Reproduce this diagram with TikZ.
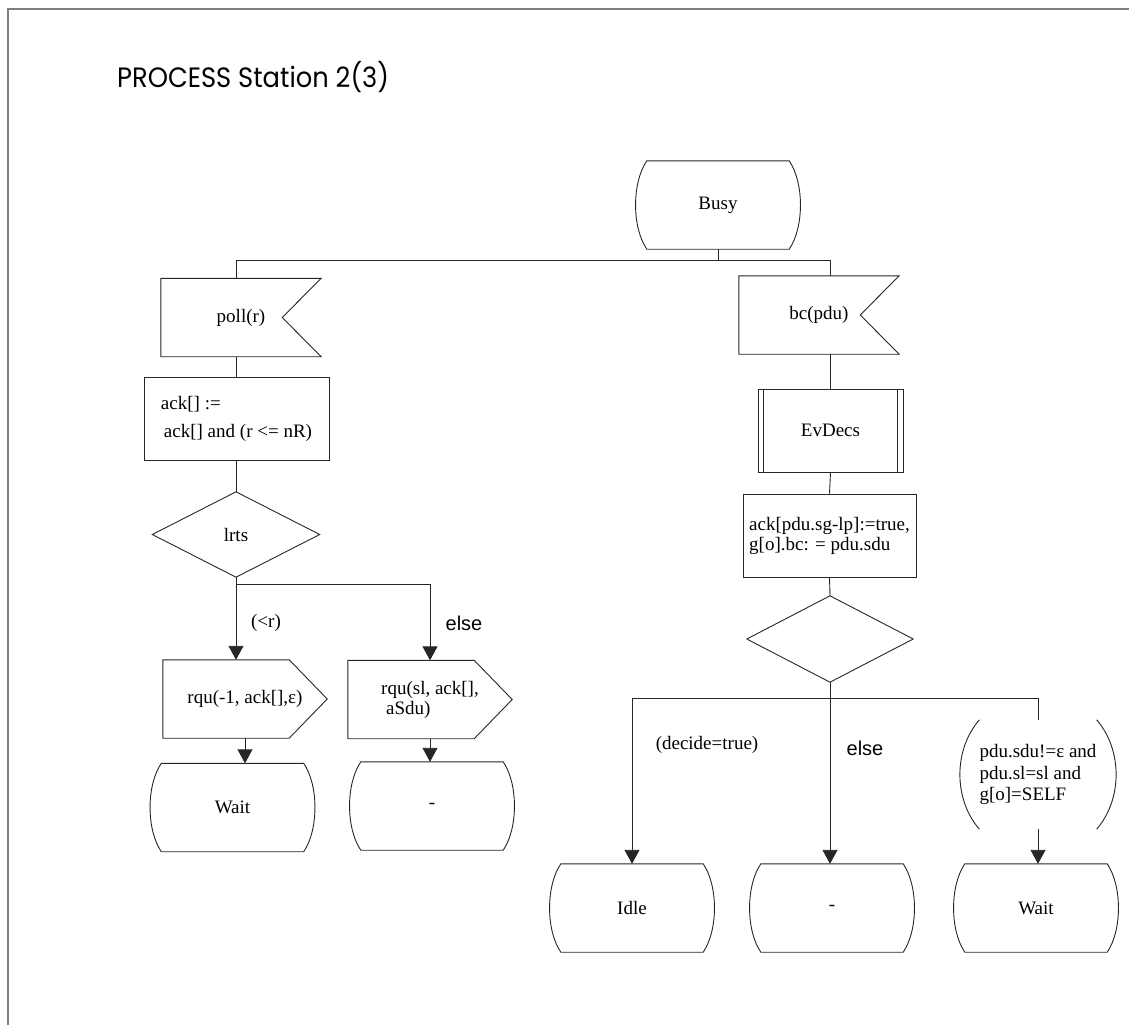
\documentclass[tikz,border=0pt]{standalone}
\usepackage{fontspec}
\setmainfont{Liberation Serif}
\newfontfamily\titlefont{Poppins}
\newfontfamily\labelsans{Liberation Sans}
\usetikzlibrary{arrows.meta,calc}

\tikzset{
  shapeline/.style={draw=black!85, line width=0.9pt},
  flow/.style={draw=black!85, line width=0.9pt},
  flowarrow/.style={flow, -{Triangle[length=14pt,width=15pt]}},
  framerule/.style={draw=black!50, line width=2pt},
  box/.style={inner sep=0pt, font=\fontsize{19}{20}\selectfont},
  statebox/.style={box, minimum width=142pt, minimum height=88pt},
  inbox/.style={box, minimum width=160pt, minimum height=78pt},
  outbox/.style={box, minimum width=164pt, minimum height=78pt},
  taskbox/.style={box, shapeline, align=left, minimum height=83pt},
  procbox/.style={box, shapeline, minimum width=145pt, minimum height=83pt},
  decbox/.style={box, minimum width=167pt, minimum height=85pt},
  condbox/.style={box, align=left, font=\fontsize{19}{21.5}\selectfont,
    minimum width=110pt, minimum height=109pt},
  serifnote/.style={font=\fontsize{19}{20}\selectfont},
  sansnote/.style={font=\labelsans\fontsize{20}{22}\selectfont},
  titletext/.style={font=\titlefont\fontsize{28}{30}\selectfont},
}

% outlines drawn around invisible rectangular nodes
\newcommand\stateoutline[1]{%
  \draw[shapeline] (#1.north west) -- (#1.north east)
    .. controls ($(#1.north east)+(15,22)$) and ($(#1.south east)+(15,-22)$) .. (#1.south east)
    -- (#1.south west)
    .. controls ($(#1.south west)+(-15,-22)$) and ($(#1.north west)+(-15,22)$) .. cycle;}
\newcommand\inputoutline[1]{%
  \draw[shapeline] (#1.north west) -- (#1.north east) -- ($(#1.east)+(-39,0)$)
    -- (#1.south east) -- (#1.south west) -- cycle;}
\newcommand\outputoutline[1]{%
  \draw[shapeline] (#1.north west) -- ($(#1.north east)+(-38,0)$) -- (#1.east)
    -- ($(#1.south east)+(-38,0)$) -- (#1.south west) -- cycle;}
\newcommand\decisionoutline[1]{%
  \draw[shapeline] (#1.north) -- (#1.east) -- (#1.south) -- (#1.west) -- cycle;}
\newcommand\procinner[1]{%
  \draw[shapeline] ($(#1.north west)+(6,0)$) -- ($(#1.south west)+(6,0)$);
  \draw[shapeline] ($(#1.north east)+(-6,0)$) -- ($(#1.south east)+(-6,0)$);}
\newcommand\condparens[1]{%
  \draw[shapeline] (#1.north west)
    .. controls ($(#1.north west)+(-26,30)$) and ($(#1.south west)+(-26,-30)$) .. (#1.south west);
  \draw[shapeline] (#1.north east)
    .. controls ($(#1.north east)+(26,30)$) and ($(#1.south east)+(26,-30)$) .. (#1.south east);}

\begin{document}
\begin{tikzpicture}[x=1pt, y=-1pt]
\useasboundingbox (0,0) rectangle (1129,1025);

% frame and heading
\draw[framerule] (8,1025) -- (8,9) -- (1129,9);
\node[titletext, anchor=base west, inner sep=0pt] (title) at (117,87)
  {\scalebox{0.92}[1]{PROCESS Station 2(3)}};

% start state
\node[statebox] (busy) at (718,205) {Busy};
\stateoutline{busy}

% left transition
\node[inbox] (pollin) at (241,317.5) {poll(r)\hspace{18pt}};
\inputoutline{pollin}
\node[taskbox, minimum width=185pt, font=\fontsize{19}{28}\selectfont] (ack) at (236.5,418.5)
  {ack[] :=\\\hspace*{3pt}ack[] and (r <= nR)};
\node[decbox] (lrts) at (236,534.5) {lrts};
\decisionoutline{lrts}
\node[outbox] (out1) at (245,699) {rqu(-1, ack[],ε)};
\outputoutline{out1}
\node[outbox, align=left] (out2) at (430,699.5) {rqu(sl, ack[],\\\hspace*{5pt}aSdu)};
\outputoutline{out2}
\node[statebox] (wait1) at (232.5,807.5) {Wait};
\stateoutline{wait1}
\node[statebox] (dash1) at (432,806) {-};
\stateoutline{dash1}

% right transition
\node[inbox] (bcin) at (819,315) {bc(pdu)};
\inputoutline{bcin}
\node[procbox] (evdecs) at (830.5,430.5) {EvDecs};
\procinner{evdecs}
\node[taskbox, minimum width=173pt] (task2) at (829.5,535.5)
  {ack[pdu.sg-lp]:=true,\\g[o].bc: = pdu.sdu};
\node[decbox, minimum width=166pt, minimum height=86pt] (dec2) at (830,639) {};
\decisionoutline{dec2}
\node[condbox] (cond) at (1038,774.5) {pdu.sdu!=ε and\\pdu.sl=sl and\\g[o]=SELF};
\condparens{cond}
\node[statebox] (idle) at (632,908) {Idle};
\stateoutline{idle}
\node[statebox] (dash2) at (832,908) {-};
\stateoutline{dash2}
\node[statebox] (wait2) at (1036,908) {Wait};
\stateoutline{wait2}

% connectors from the start state
\draw[flow] (busy.south) -- ++(0,11) coordinate (bj);
\draw[flow] (bj) -| (pollin.north -| ack.north);
\draw[flow] (bj) -| (bcin.north -| evdecs.north);

% left column
\draw[flow] (pollin.south -| ack.north) -- (ack.north);
\draw[flow] (ack.south) -- (ack.south |- lrts.north);
\draw[flow] (lrts.south) -- ++(0,7) coordinate (lj);
\draw[flowarrow] (lj) -- (lj |- out1.north);
\draw[flowarrow] (lj) -| (out2.north);
\node[serifnote] (ltlab) at (266,623) {(<r)};
\node[sansnote] (else1) at (464,623) {else};
\draw[flowarrow] (out1.south) -- (out1.south |- wait1.north);
\draw[flowarrow] (out2.south) -- (out2.south |- dash1.north);

% right column
\draw[flow] (bcin.south -| evdecs.north) -- (evdecs.north);
\draw[flow] (evdecs.south) -- (task2.north);
\draw[flow] (task2.south) -- (dec2.north);
\draw[flow] (dec2.south) -- ++(0,16) coordinate (rj);
\draw[flowarrow] (rj) -| (idle.north);
\draw[flowarrow] (rj) -- (rj |- dash2.north);
\draw[flow] (rj) -| (cond.north);
\draw[flowarrow] (cond.south) -- (cond.south |- wait2.north);
\node[serifnote] (declab) at (707,745) {(decide=true)};
\node[sansnote] (else2) at (865,748) {else};
\end{tikzpicture}
\end{document}
